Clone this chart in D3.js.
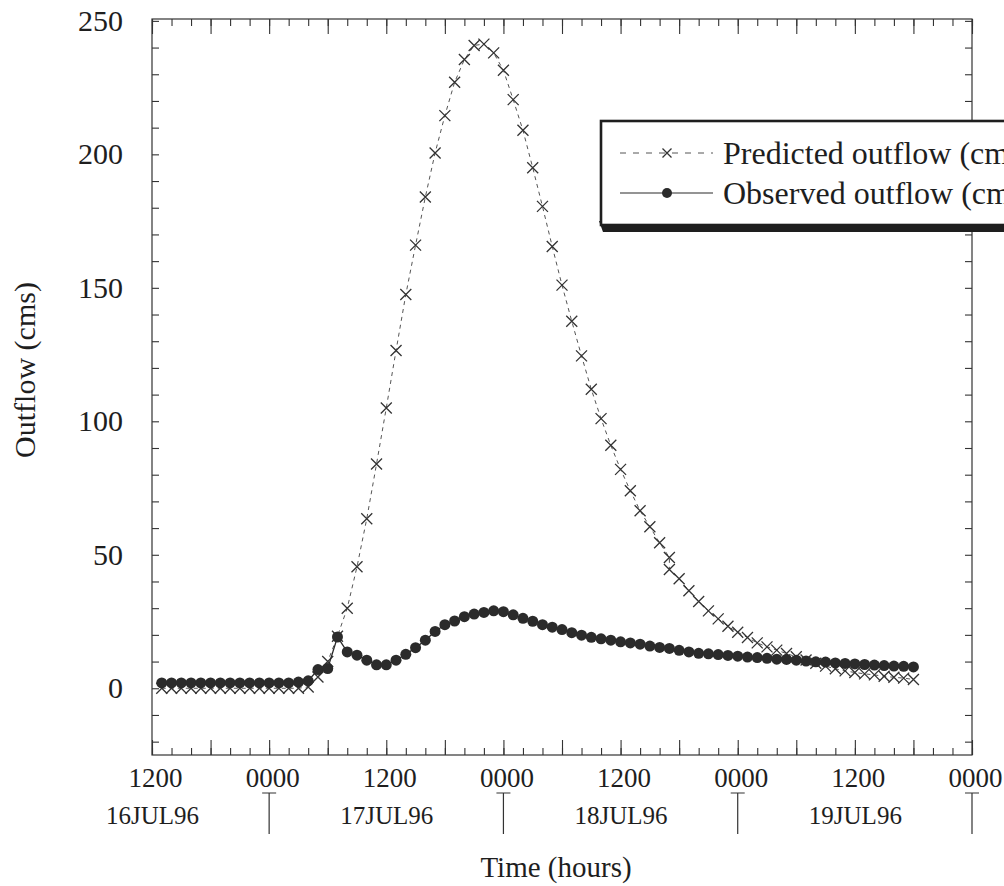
<!DOCTYPE html>
<html>
<head>
<meta charset="utf-8">
<script src="https://cdn.jsdelivr.net/npm/d3@7"></script>
<style>
  body { margin: 0; background: #fff; }
  svg { display: block; }
</style>
</head>
<body>
<div id="chart"></div>
<script>
// hourly series, hour 1 = 1300 16JUL96
const observedOutflow = [
  2, 2, 2, 2, 2, 2, 2, 2, 2, 2, 2, 2, 2, 2, 2.3, 2.8,
  7, 7.4, 19.2, 13.6, 12.4, 10.5, 8.8, 8.8, 10.5, 12.7, 15.2, 18, 21.3, 23.8,
  25.2, 26.8, 27.8, 28.4, 29, 28.7, 27.5, 26.2, 25.1, 23.8, 22.9, 22, 20.8, 19.9,
  19.1, 18.5, 18, 17.4, 17, 16.5, 15.8, 15.3, 14.9, 14.2, 13.6, 13.1, 12.9, 12.6,
  12.3, 12, 11.7, 11.5, 11.2, 10.9, 10.8, 10.5, 10.2, 9.9, 9.8, 9.5, 9.3, 9.1,
  8.9, 8.7, 8.5, 8.3, 8.2, 8
];
// predicted has two values logged at hour 53
const predictedOutflow = [
  0, 0, 0, 0, 0, 0, 0, 0, 0, 0, 0, 0, 0, 0, 0, 0.5,
  4.2, 10, 19.5, 30, 45.5, 63.5, 84, 105, 126.5, 147.5, 166, 184, 200.5, 214.5,
  227, 235.5, 240.8, 241.3, 238, 231.5, 220.5, 209, 195, 180.5, 165.5, 151, 137.5, 124.5,
  112, 101, 91, 82, 74, 66.5, 60.5, 54.5, 49, 44.5, 41, 36.5, 32.5, 29,
  26, 23.2, 21, 19, 17, 15.5, 14.3, 13, 11.8, 10.6, 9.4, 8.3, 7.3, 6.5,
  5.9, 5.4, 5, 4.5, 4.1, 3.8, 3.3
];
const observedHours = d3.range(1, 79);
const predictedHours = d3.range(1, 54).concat([53], d3.range(54, 79));

const hourLabels = ['1200', '0000', '1200', '0000', '1200', '0000', '1200', '0000'];
const dayLabels = ['16JUL96', '17JUL96', '18JUL96', '19JUL96'];
const yLabels = [0, 50, 100, 150, 200, 250];
const legendLabels = ['Predicted outflow (cms)', 'Observed outflow (cms)'];

const width = 1004, height = 886;
const plot = { left: 152, right: 972, top: 19, bottom: 755 };
const font = "'Liberation Serif', 'DejaVu Serif', serif";
const ink = '#1e1e1e';

const start = new Date(Date.UTC(1996, 6, 16, 12));
const end = new Date(Date.UTC(1996, 6, 20, 0));
const atHour = h => new Date(start.getTime() + h * 3600e3);

const x = d3.scaleUtc().domain([start, end]).range([plot.left, plot.right]);
const y = d3.scaleLinear().domain([-25, 250.7]).range([plot.bottom, plot.top]);

const svg = d3.select('#chart').append('svg')
  .attr('width', width)
  .attr('height', height);

svg.append('rect').attr('width', width).attr('height', height).attr('fill', '#fff');

// frame
svg.append('rect')
  .attr('x', plot.left).attr('y', plot.top)
  .attr('width', plot.right - plot.left).attr('height', plot.bottom - plot.top)
  .attr('fill', 'none').attr('stroke', '#333').attr('stroke-width', 1.2);

// tick marks, all pointing inward
const minorTicks = x.ticks(d3.utcHour.every(2));
const majorTicks = x.ticks(d3.utcHour.every(6));
const yTicks = d3.range(-20, 251, 10);

function ticksOnly(axis, tx, ty) {
  const g = svg.append('g').attr('transform', `translate(${tx},${ty})`).call(axis);
  g.select('.domain').remove();
  g.selectAll('line').attr('stroke', '#333').attr('stroke-width', 1.1);
  g.selectAll('text').remove();
  return g;
}
ticksOnly(d3.axisBottom(x).tickValues(minorTicks).tickSize(-7), 0, plot.bottom);
ticksOnly(d3.axisBottom(x).tickValues(majorTicks).tickSize(-15), 0, plot.bottom);
ticksOnly(d3.axisTop(x).tickValues(minorTicks).tickSize(-7), 0, plot.top);
ticksOnly(d3.axisTop(x).tickValues(majorTicks).tickSize(-15), 0, plot.top);
ticksOnly(d3.axisLeft(y).tickValues(yTicks).tickSize(-7), plot.left, 0);
ticksOnly(d3.axisRight(y).tickValues(yTicks).tickSize(-7), plot.right, 0);

// y labels
const yAxis = svg.append('g')
  .attr('transform', `translate(${plot.left},0)`)
  .call(d3.axisLeft(y).tickValues(yLabels).tickSize(0).tickPadding(29));
yAxis.select('.domain').remove();
yAxis.selectAll('text')
  .attr('font-family', font).attr('font-size', 30).attr('fill', ink);

// hour labels every 12 h
const halfDays = x.ticks(d3.utcHour.every(12));
const hourAxis = svg.append('g')
  .attr('transform', `translate(3,${plot.bottom})`)
  .call(d3.axisBottom(x).tickValues(halfDays).tickSize(0).tickPadding(13)
    .tickFormat((d, i) => hourLabels[i]));
hourAxis.select('.domain').remove();
hourAxis.selectAll('text')
  .attr('font-family', font).attr('font-size', 27).attr('fill', ink);

// day labels at noon
const noons = dayLabels.map((d, i) => atHour(i * 24));
const dayAxis = svg.append('g')
  .attr('transform', `translate(0,${plot.bottom})`)
  .call(d3.axisBottom(x).tickValues(noons).tickSize(0).tickPadding(51)
    .tickFormat((d, i) => dayLabels[i]));
dayAxis.select('.domain').remove();
dayAxis.selectAll('text')
  .attr('font-family', font).attr('font-size', 25).attr('fill', ink);

// day separators
const midnights = noons.map(d => d3.utcHour.offset(d, 12));
svg.append('g').selectAll('path')
  .data(midnights)
  .enter()
  .append('path')
  .attr('d', d => `M${x(d) - 7},793H${x(d) + 7}M${x(d)},793V834`)
  .attr('fill', 'none').attr('stroke', '#333').attr('stroke-width', 1.2);

// axis titles
svg.append('text')
  .attr('x', 556).attr('y', 877)
  .attr('text-anchor', 'middle')
  .attr('font-family', font).attr('font-size', 29).attr('fill', ink)
  .text('Time (hours)');

svg.append('text')
  .attr('transform', 'translate(35,370) rotate(-90)')
  .attr('text-anchor', 'middle')
  .attr('font-family', font).attr('font-size', 30).attr('fill', ink)
  .text('Outflow (cms)');

// series
const predicted = predictedHours.map((h, i) => ({ t: atHour(h), v: predictedOutflow[i] }));
const observed = observedHours.map((h, i) => ({ t: atHour(h), v: observedOutflow[i] }));

const line = d3.line().x(d => x(d.t)).y(d => y(d.v));
const cross = s => `M${-s},${-s}L${s},${s}M${-s},${s}L${s},${-s}`;

svg.append('path')
  .datum(predicted)
  .attr('fill', 'none')
  .attr('stroke', '#555')
  .attr('stroke-width', 1)
  .attr('stroke-dasharray', '4,4')
  .attr('d', line);

svg.append('g').selectAll('path')
  .data(predicted)
  .enter()
  .append('path')
  .attr('transform', d => `translate(${x(d.t)},${y(d.v)})`)
  .attr('d', cross(5.5))
  .attr('stroke', '#333')
  .attr('stroke-width', 1.3)
  .attr('fill', 'none');

svg.append('path')
  .datum(observed)
  .attr('fill', 'none')
  .attr('stroke', '#2a2a2a')
  .attr('stroke-width', 1.3)
  .attr('d', line);

svg.append('g').selectAll('circle')
  .data(observed)
  .enter()
  .append('circle')
  .attr('cx', d => x(d.t))
  .attr('cy', d => y(d.v))
  .attr('r', 5.5)
  .attr('fill', '#2b2b2b');

// legend (runs off the right edge as in the original)
const lg = svg.append('g').attr('transform', 'translate(601,121)');
lg.append('path')
  .attr('d', 'M-2,100L2,111H440V100Z')
  .attr('fill', '#1e1e1e');
lg.append('rect')
  .attr('width', 440).attr('height', 104)
  .attr('fill', '#fff').attr('stroke', '#1e1e1e').attr('stroke-width', 2.6);

const rows = [32, 72];
lg.append('line')
  .attr('x1', 19).attr('x2', 112).attr('y1', rows[0]).attr('y2', rows[0])
  .attr('stroke', '#555').attr('stroke-width', 1).attr('stroke-dasharray', '6,7');
lg.append('path')
  .attr('transform', `translate(66,${rows[0]})`)
  .attr('d', cross(4.5))
  .attr('stroke', '#333').attr('stroke-width', 1.3);
lg.append('line')
  .attr('x1', 19).attr('x2', 112).attr('y1', rows[1]).attr('y2', rows[1])
  .attr('stroke', '#2a2a2a').attr('stroke-width', 1.2);
lg.append('circle')
  .attr('cx', 66).attr('cy', rows[1]).attr('r', 5)
  .attr('fill', '#2b2b2b');

lg.selectAll('text.lab')
  .data(legendLabels)
  .enter()
  .append('text')
  .attr('x', 122)
  .attr('y', (d, i) => rows[i])
  .attr('dy', '0.35em')
  .attr('font-family', font).attr('font-size', 32).attr('fill', ink)
  .text(d => d);
</script>
</body>
</html>
